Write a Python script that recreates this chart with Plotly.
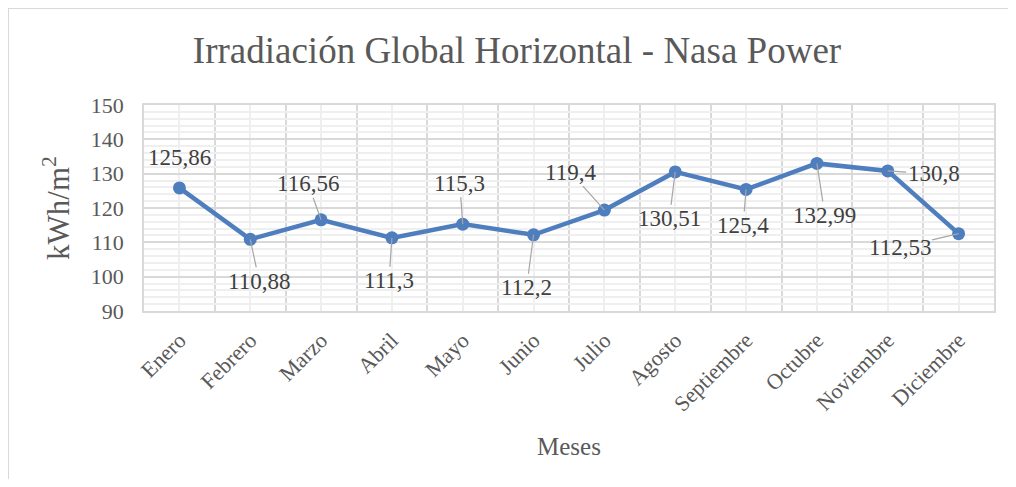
import plotly.graph_objects as go

# Datos ------------------------------
meses = ["Enero", "Febrero", "Marzo", "Abril", "Mayo", "Junio", "Julio",
         "Agosto", "Septiembre", "Octubre", "Noviembre", "Diciembre"]
irradiacion = [125.86, 110.88, 116.56, 111.3, 115.3, 112.2, 119.4,
               130.51, 125.4, 132.99, 130.8, 112.53]
etiquetas = ["125,86", "110,88", "116,56", "111,3", "115,3", "112,2", "119,4",
             "130,51", "125,4", "132,99", "130,8", "112,53"]

# desplazamiento de cada etiqueta respecto al punto (px)
dx = [0, 9, -13, -3, -3, -7, -34, -6, -3, 8, 46, -59]
dy = [-30, 42, -36, 43, -41, 53, -38, 47, 36, 52, 3, 14]

fuente = "Liberation Serif"
gris = "#595959"
azul = "#4F7EBE"

x = list(range(len(meses)))

fig = go.Figure()
fig.add_trace(go.Scatter(
    x=x, y=irradiacion, mode="lines+markers",
    line=dict(color=azul, width=4.5),
    marker=dict(color=azul, size=13),
    hoverinfo="skip", showlegend=False,
))

for i, v in enumerate(irradiacion):
    if i == 0:
        fig.add_annotation(x=i, y=v, text=etiquetas[i], showarrow=False,
                           yshift=-dy[i], xshift=dx[i],
                           font=dict(family=fuente, size=23, color="#404040"))
    else:
        fig.add_annotation(x=i, y=v, text=etiquetas[i], showarrow=True,
                           ax=dx[i], ay=dy[i], arrowhead=0, arrowwidth=1.2,
                           arrowcolor="#A6A6A6", standoff=0,
                           font=dict(family=fuente, size=23, color="#404040"))

# borde del grafico
fig.add_shape(type="rect", xref="paper", yref="paper",
              x0=-0.16, x1=1.05, y0=-1.0, y1=1.471,
              line=dict(color="#D9D9D9", width=2), fillcolor="rgba(0,0,0,0)",
              layer="below")

# la pagina tiene 8 px de margen en el body
fig.update_layout(
    width=1000, height=471,
    margin=dict(l=136, r=14, t=97, b=168),
    paper_bgcolor="white", plot_bgcolor="white",
    font=dict(family=fuente, color=gris),
    title=dict(text="Irradiación Global Horizontal - Nasa Power",
               x=0.509, xanchor="center", y=0.91, yanchor="middle",
               font=dict(family=fuente, size=37, color=gris)),
)

fig.update_xaxes(
    range=[-0.5, 11.5], tickmode="array", tickvals=x, ticktext=meses,
    tickangle=-45, tickfont=dict(family=fuente, size=22, color=gris),
    showgrid=True, gridcolor="#EFEFEF", gridwidth=1.5,
    zeroline=False, showline=True, linecolor="#D9D9D9", linewidth=1.5,
    mirror=True, ticks="outside", ticklen=6, tickcolor="rgba(0,0,0,0)",
    minor=dict(tickmode="linear", tick0=-0.5, dtick=1, showgrid=True,
               gridcolor="#D9D9D9", gridwidth=1.5),
    title=dict(text="Meses", font=dict(family=fuente, size=25, color=gris),
               standoff=22),
)

fig.update_yaxes(
    range=[90, 150], tickmode="linear", tick0=90, dtick=10,
    tickfont=dict(family=fuente, size=22, color=gris),
    showgrid=True, gridcolor="#D9D9D9", gridwidth=1.5,
    zeroline=False, showline=True, linecolor="#D9D9D9", linewidth=1.5,
    mirror=True, ticks="outside", ticklen=14, tickcolor="rgba(0,0,0,0)",
    minor=dict(tickmode="linear", tick0=90, dtick=2, showgrid=True,
               gridcolor="#EFEFEF", gridwidth=1.5),
    title=dict(text="kWh/m<sup>2</sup>",
               font=dict(family=fuente, size=31, color=gris), standoff=12),
)

fig.write_html("out.html")
